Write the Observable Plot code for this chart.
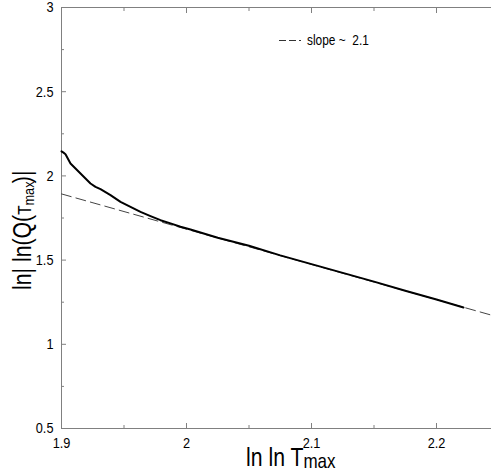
<!DOCTYPE html>
<html><head><meta charset="utf-8">
<script src="https://cdn.jsdelivr.net/npm/d3@7"></script>
<script src="https://cdn.jsdelivr.net/npm/@observablehq/plot@0.6"></script>
<style>html,body{margin:0;padding:0;background:#fff}#chart svg{display:block}</style>
</head><body><div id="chart"></div>
<script>
// Measured curve: ln|ln Q(Tmax)| vs ln ln Tmax
const curveX = [1.9, 1.9016, 1.9032, 1.9072, 1.9112, 1.9152, 1.9192, 1.9232, 1.9272, 1.9312, 1.9392, 1.9472, 1.9552, 1.9632, 1.9712, 1.9792, 1.9872, 1.9952, 2.0032, 2.025, 2.05, 2.075, 2.1, 2.125, 2.15, 2.175, 2.2, 2.2216];
const curveY = [2.146, 2.138, 2.129, 2.074, 2.044, 2.014, 1.985, 1.955, 1.935, 1.921, 1.886, 1.846, 1.816, 1.786, 1.761, 1.737, 1.718, 1.698, 1.682, 1.633, 1.585, 1.528, 1.476, 1.424, 1.372, 1.318, 1.266, 1.219];
// Fitted line, slope ~ -2.1
const fitX = [1.9, 2.244];
const fitY = [1.893, 1.173];
const xMajor = [1.9, 2, 2.1, 2.2];
const xMinor = [1.95, 2.05, 2.15];
const yMajor = [0.5, 1, 1.5, 2, 2.5, 3];
const yMinor = [0.75, 1.25, 1.75, 2.25, 2.75];
const legendLabel = "slope ~  2.1";

const curve = curveX.map((x, i) => ({x, y: curveY[i]}));
const fit = fitX.map((x, i) => ({x, y: fitY[i]}));
const axisColor = "#808080";
const fmt = d => String(d);

const svg = Plot.plot({
  width: 491, height: 476,
  marginLeft: 61, marginRight: 0, marginTop: 7, marginBottom: 48,
  x: {domain: [1.9, 2.244]},
  y: {domain: [0.5, 3]},
  style: {fontFamily: "'Liberation Sans', Arial, sans-serif", fontSize: "15px", color: "#000", background: "#fff", overflow: "visible"},
  marks: [
    Plot.ruleX([1.9], {stroke: axisColor}),
    Plot.ruleY([0.5, 3], {stroke: axisColor}),
    Plot.axisX(xMajor, {anchor: "bottom", tickSize: -5, tickPadding: 14, stroke: axisColor, fill: "#000", tickFormat: fmt, label: null}),
    Plot.axisX(xMinor, {anchor: "bottom", tickSize: -3, stroke: axisColor, tickFormat: () => "", label: null}),
    Plot.axisX(xMajor, {anchor: "top", tickSize: -5, stroke: axisColor, tickFormat: () => "", label: null}),
    Plot.axisX(xMinor, {anchor: "top", tickSize: -3, stroke: axisColor, tickFormat: () => "", label: null}),
    Plot.axisY(yMajor, {anchor: "left", tickSize: -5, tickPadding: 13, stroke: axisColor, fill: "#000", tickFormat: fmt, label: null}),
    Plot.axisY(yMinor, {anchor: "left", tickSize: -3, stroke: axisColor, tickFormat: () => "", label: null}),
    Plot.line(fit, {x: "x", y: "y", stroke: "#444", strokeWidth: 1, strokeDasharray: "10,5"}),
    Plot.line(curve, {x: "x", y: "y", stroke: "#000", strokeWidth: 2})
  ]
});
document.getElementById("chart").appendChild(svg);

const s = d3.select(svg);
// compress tick label glyphs horizontally like the reference
s.selectAll("[aria-label$='tick label'] text").each(function() {
  const t = this.getAttribute("transform") || "";
  this.setAttribute("transform", t + " scale(0.85,1)");
});

const font = "'Liberation Sans', Arial, sans-serif";
// x label
const xl = s.append("text").attr("transform", "translate(246,466) scale(0.85,1)")
  .attr("text-anchor", "start")
  .attr("font-family", font).attr("font-size", 25).attr("fill", "#000");
xl.append("tspan").text("ln ln T");
xl.append("tspan").attr("font-size", 20).attr("dy", 2).text("max");

// y label
const yl = s.append("text").attr("transform", "translate(31,290) rotate(-90) scale(0.85,1)")
  .attr("text-anchor", "start")
  .attr("font-family", font).attr("font-size", 25).attr("fill", "#000");
yl.append("tspan").text("ln| ln(Q(");
yl.append("tspan").attr("font-size", 18).text("T");
yl.append("tspan").attr("font-size", 15).attr("dy", 3).text("max");
yl.append("tspan").attr("dy", -3).attr("dx", -2).text(")|");

// legend
s.append("path").attr("d", "M279,40.5H301")
  .attr("fill", "none").attr("stroke", "#333").attr("stroke-width", 1.2).attr("stroke-dasharray", "7,3");
s.append("text").attr("transform", "translate(307,45) scale(0.85,1)")
  .attr("text-anchor", "start")
  .attr("font-family", font).attr("font-size", 14).attr("fill", "#000").text(legendLabel);
</script>
</body></html>
